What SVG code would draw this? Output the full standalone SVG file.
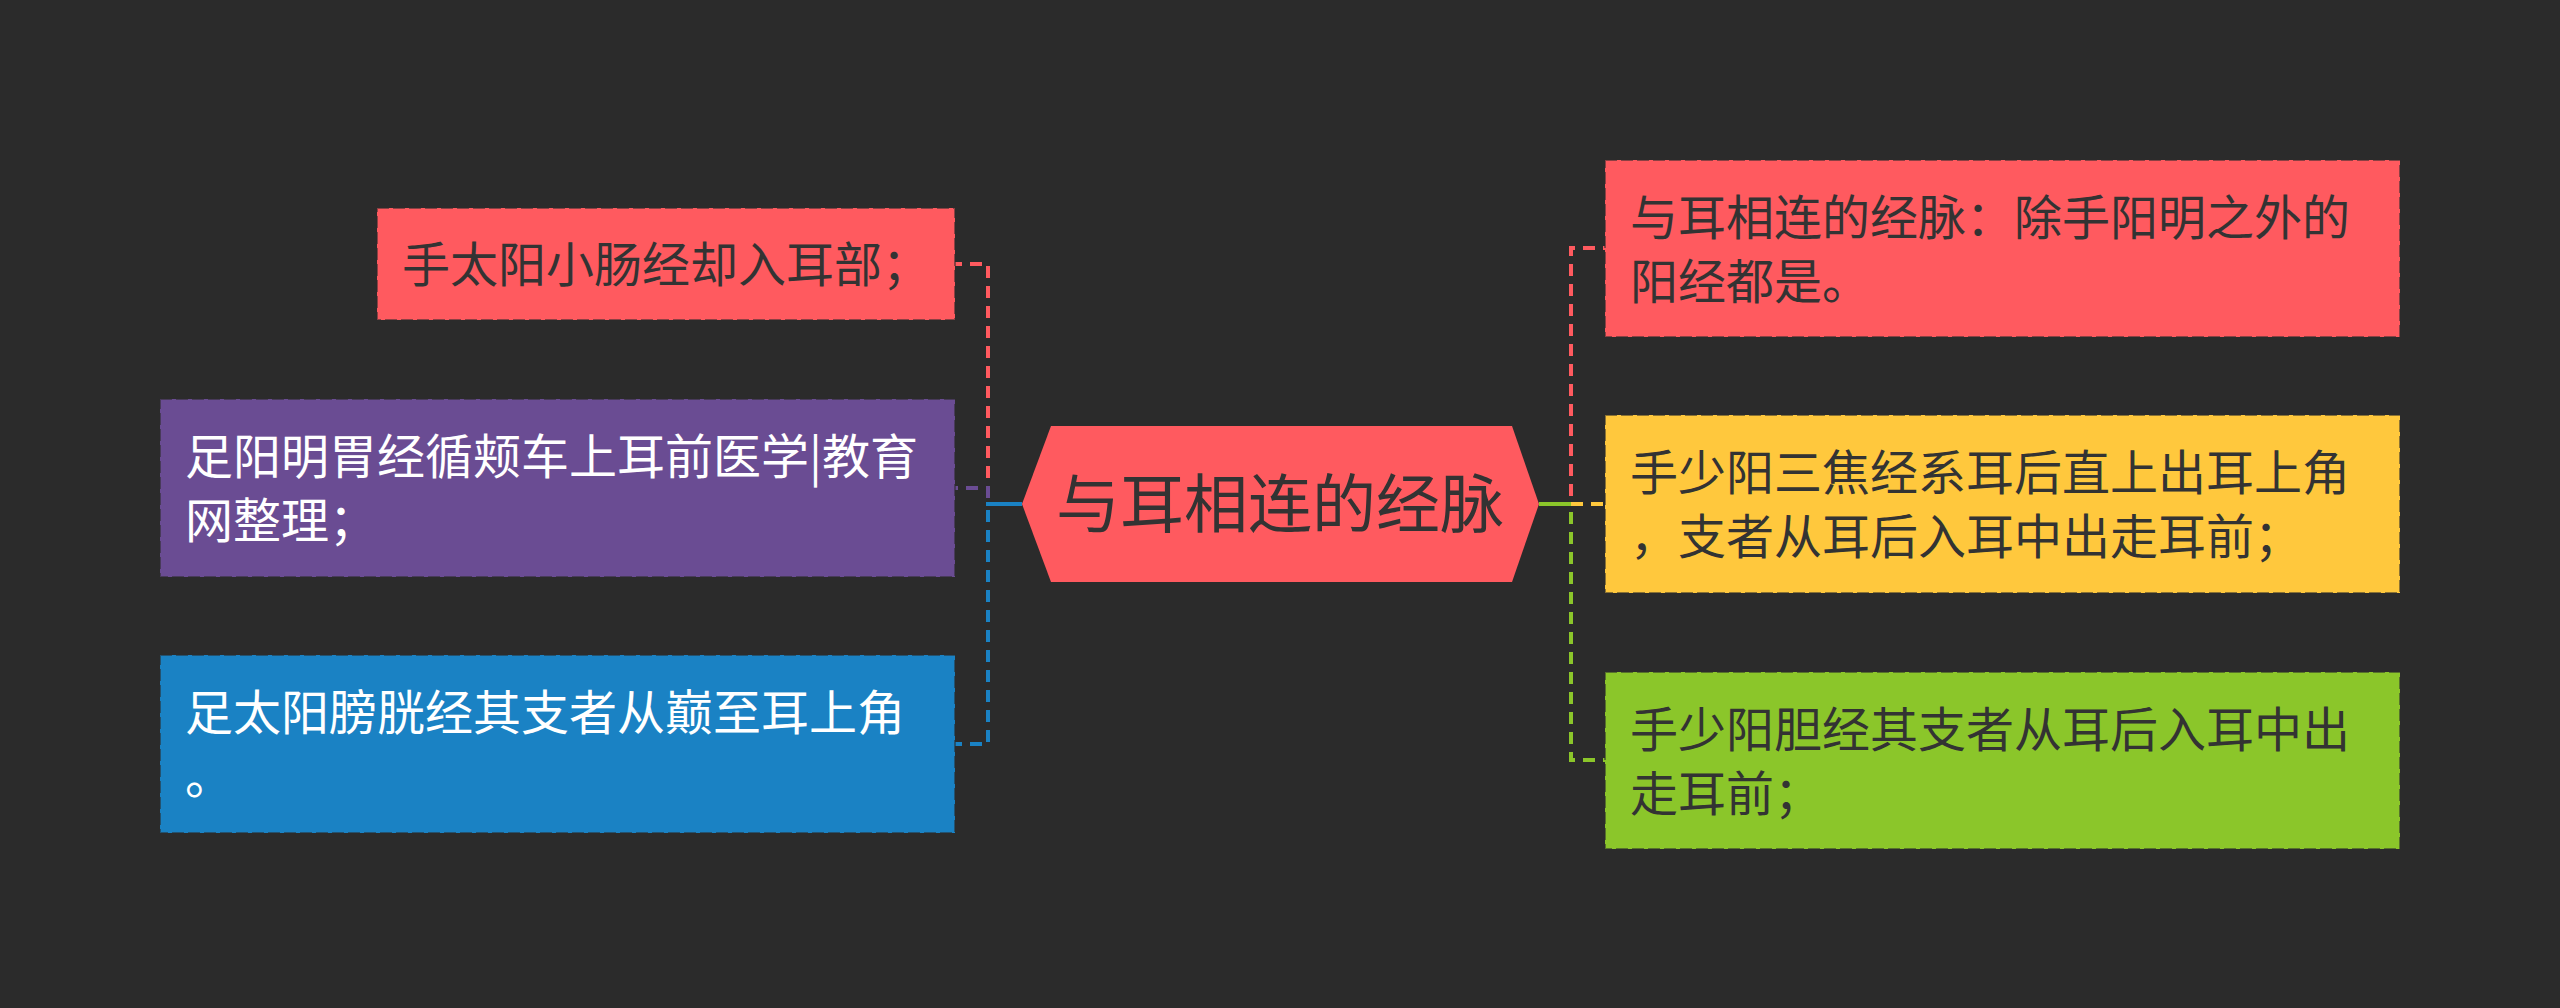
<svg xmlns="http://www.w3.org/2000/svg" width="2560" height="1008" viewBox="0 0 2560 1008">
<style>
.t{font-family:"Noto Sans CJK SC","Noto Sans",sans-serif;font-size:48px}
.dk{fill:#333333}
.wt{fill:#ffffff}
.box{stroke:#2b2b2b;stroke-opacity:0.55;stroke-width:2;stroke-dasharray:12 4}
.c{fill:none;stroke-width:4;stroke-dasharray:12 8}
</style>
<rect width="2560" height="1008" fill="#2b2b2b"/>
<g id="connectors">
<path class="c" d="M1022,504 H988 V264 H955" stroke="#ff5a5f"/>
<path class="c" d="M1022,504 H988 V488 H955" stroke="#6a4c93"/>
<path class="c" d="M1022,504 H988 V744 H955" stroke="#1a82c4"/>
<line x1="1022" y1="504" x2="986" y2="504" stroke="#1a82c4" stroke-width="4"/>
<path class="c" d="M1539,504 H1571 V248 H1605" stroke="#ff5a5f"/>
<path class="c" d="M1571,504 H1605" stroke="#ffc83d"/>
<path class="c" d="M1539,504 H1571 V760 H1605" stroke="#8bc62a"/>
<line x1="1539" y1="504" x2="1571" y2="504" stroke="#8bc62a" stroke-width="4"/>
</g>
<g id="center">
<polygon points="1022,504 1051,426 1512,426 1539,504 1512,582 1051,582" fill="#ff5a5f"/>
<text class="t dk" x="1280" y="527" font-size="64" style="font-size:64px" text-anchor="middle">与耳相连的经脉</text>
</g>
<g id="left1">
<rect class="box" x="377" y="208" width="578" height="112" fill="#ff5a5f"/>
<text class="t dk" x="402" y="282">手太阳小肠经却入耳部；</text>
</g>
<g id="left2">
<rect class="box" x="160" y="399" width="795" height="178" fill="#6a4c93"/>
<text class="t wt" x="185" y="474">足阳明胃经循颊车上耳前医学|教育</text>
<text class="t wt" x="185" y="538">网整理；</text>
</g>
<g id="left3">
<rect class="box" x="160" y="655" width="795" height="178" fill="#1a82c4"/>
<text class="t wt" x="185" y="730">足太阳膀胱经其支者从巅至耳上角</text>
<text class="t wt" x="185" y="794">。</text>
</g>
<g id="right1">
<rect class="box" x="1605" y="160" width="795" height="177" fill="#ff5a5f"/>
<text class="t dk" x="1630" y="235">与耳相连的经脉：除手阳明之外的</text>
<text class="t dk" x="1630" y="299">阳经都是。</text>
</g>
<g id="right2">
<rect class="box" x="1605" y="415" width="795" height="178" fill="#ffc83d"/>
<text class="t dk" x="1630" y="490">手少阳三焦经系耳后直上出耳上角</text>
<text class="t dk" x="1630" y="554">，支者从耳后入耳中出走耳前；</text>
</g>
<g id="right3">
<rect class="box" x="1605" y="672" width="795" height="177" fill="#8bc62a"/>
<text class="t dk" x="1630" y="747">手少阳胆经其支者从耳后入耳中出</text>
<text class="t dk" x="1630" y="811">走耳前；</text>
</g>
</svg>
